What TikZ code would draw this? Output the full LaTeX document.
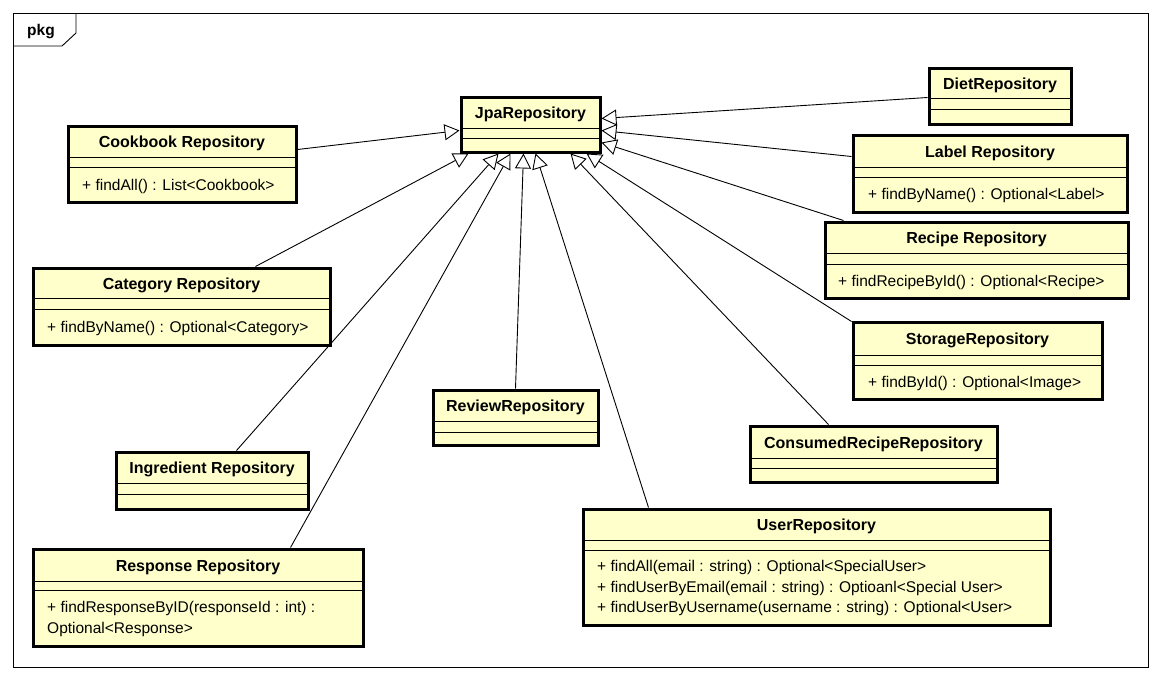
\documentclass[tikz,border=0pt]{standalone}
\usepackage{fontspec}
\setmainfont{Liberation Sans}
\usetikzlibrary{arrows.meta,calc,fit}
\definecolor{clsfill}{HTML}{FFFFCC}
\tikzset{
  cls/.style={draw=black, line width=3pt, fill=clsfill, inner sep=0pt},
  divider/.style={draw=black, line width=0.9pt},
  ctitle/.style={font=\fontsize{16}{19}\selectfont\bfseries, inner sep=0pt},
  meth/.style={font=\fontsize{15.5}{19}\selectfont, inner sep=0pt, anchor=west},
  gen/.style={draw=black, line width=0.9pt, -{Triangle[open, length=15pt, width=16pt, line width=0.9pt]}},
  frame/.style={draw=black, line width=0.9pt}
}
\newcommand{\ucls}[8]{%
  \node[cls, fit={(#2,#3) (#4,#5)}] (#1) {};
  \draw[divider] (#2,#6) -- (#4,#6);
  \draw[divider] (#2,#7) -- (#4,#7);
  \node[ctitle] (#1-t) at ({(#2+#4)/2},{(#3+#6)/2+2}) {#8};
}
\begin{document}
\begin{tikzpicture}[x=1pt,y=-1pt]
\useasboundingbox (0,0) rectangle (1161,681);
% frame
\draw[frame] (13,13) rectangle (1148,667);
\draw[frame] (13,46) -- (62,46) -- (76,33) -- (76,13);
\node[font=\fontsize{15.5}{18}\selectfont\bfseries, inner sep=0pt] (pkg) at (41,32) {pkg};
% classes
\ucls{jpa}{461}{97}{600}{152}{128}{138}{JpaRepository}
\ucls{cook}{68}{126}{296}{202}{157}{167}{Cookbook Repository}
\node[meth] (cook-m) at (82,186.5) {+ findAll() : List<Cookbook>};
\ucls{diet}{929}{68}{1071}{124}{98}{109}{DietRepository}
\ucls{label}{853}{135}{1127}{212}{167}{177}{Label Repository}
\node[meth] (label-m) at (868,195.5) {+ findByName() : Optional<Label>};
\ucls{recipe}{825}{222}{1128}{298}{253}{264}{Recipe Repository}
\node[meth] (recipe-m) at (838,282.5) {+ findRecipeById() : Optional<Recipe>};
\ucls{cat}{33}{268}{330}{345}{298}{309}{Category Repository}
\node[meth] (cat-m) at (47,328.5) {+ findByName() : Optional<Category>};
\ucls{storage}{853}{322}{1102}{399}{355}{365}{StorageRepository}
\node[meth] (storage-m) at (868,383.5) {+ findById() : Optional<Image>};
\ucls{review}{433}{390}{598}{445}{421}{432}{ReviewRepository}
\ucls{consumed}{750}{426}{997}{482}{458}{468}{ConsumedRecipeRepository}
\ucls{ingr}{116}{452}{308}{509}{483}{494}{Ingredient Repository}
\ucls{user}{583}{509}{1050}{625}{540}{550}{UserRepository}
\node[meth] (user-m1) at (597,567.5) {+ findAll(email : string) : Optional<SpecialUser>};
\node[meth] (user-m2) at (597,588) {+ findUserByEmail(email : string) : Optioanl<Special User>};
\node[meth] (user-m3) at (597,608.5) {+ findUserByUsername(username : string) : Optional<User>};
\ucls{resp}{33}{549}{363}{646}{581}{590}{Response Repository}
\node[meth] (resp-m1) at (47,608.5) {+ findResponseByID(responseId : int) :};
\node[meth] (resp-m2) at (47,629) {Optional<Response>};
% generalizations
\draw[gen] ($(cook.north east)+(0,25)$) -- ($(jpa.north west)+(0,35)$);
\draw[gen] ($(diet.north west)+(0,31)$) -- ($(jpa.north east)+(0,23)$);
\draw[gen] ($(label.north west)+(0,23)$) -- ($(jpa.north east)+(0,35)$);
\draw[gen] ($(recipe.north west)+(20,0)$) -- ($(jpa.north east)+(0,47)$);
\draw[gen] ($(storage.north west)+(0,1)$) -- ($(jpa.south west)+(127,0)$);
\draw[gen] ($(consumed.north west)+(80,0)$) -- ($(jpa.south west)+(111,0)$);
\draw[gen] ($(user.north west)+(67,0)$) -- ($(jpa.south west)+(76,0)$);
\draw[gen] ($(review.north west)+(84,0)$) -- ($(jpa.south west)+(64,0)$);
\draw[gen] ($(resp.north west)+(259,0)$) -- ($(jpa.south west)+(51,0)$);
\draw[gen] ($(ingr.north west)+(122,0)$) -- ($(jpa.south west)+(39,0)$);
\draw[gen] ($(cat.north west)+(224,0)$) -- ($(jpa.south west)+(9,0)$);
\end{tikzpicture}
\end{document}
